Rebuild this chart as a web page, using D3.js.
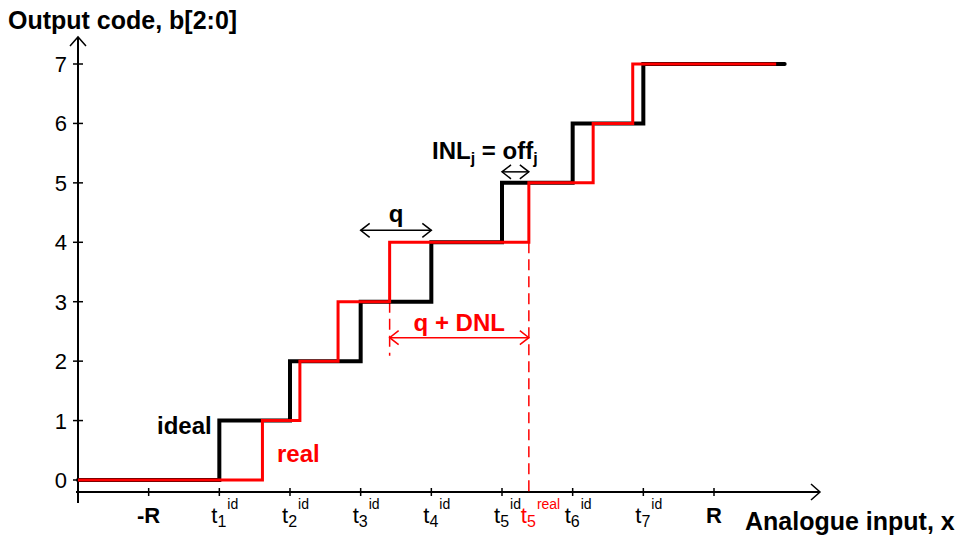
<!DOCTYPE html>
<html>
<head>
<meta charset="utf-8">
<script src="https://cdn.jsdelivr.net/npm/d3@7"></script>
<style>
  body { margin: 0; background: #fff; }
  text { font-family: "Liberation Sans", Arial, sans-serif; }
</style>
</head>
<body>
<div id="chart"></div>
<script>
// output codes and thresholds, x in units of q (-R = -4, R = 4)
var codes = [0, 1, 2, 3, 4, 5, 6, 7];
var idealThresholds = [-3, -2, -1, 0, 1, 2, 3];
var realThresholds = [-2.39, -1.86, -1.32, -0.59, 1.38, 2.29, 2.85];
var inputStart = -5, idealEnd = 5, realEnd = 4.88;

// x tick labels: main letter, subscript, superscript
var xTickValues = [-4, -3, -2, -1, 0, 1, 2, 3, 4];
var xTickLabels = [
  {main: "-R", sub: "", sup: ""},
  {main: "t", sub: "1", sup: "id"},
  {main: "t", sub: "2", sup: "id"},
  {main: "t", sub: "3", sup: "id"},
  {main: "t", sub: "4", sup: "id"},
  {main: "t", sub: "5", sup: "id"},
  {main: "t", sub: "6", sup: "id"},
  {main: "t", sub: "7", sup: "id"},
  {main: "R", sub: "", sup: ""}
];

var width = 963, height = 535;

var svg = d3.select("#chart").append("svg")
  .attr("width", width)
  .attr("height", height);

var x = d3.scaleLinear().domain([-5, 5.5]).range([78, 820]);
var y = d3.scaleLinear().domain([0, 7]).range([480, 64]);
var axisY = 492;

//Staircase points
function stairs (thresholds, end) {
  var pts = [[inputStart, 0]];
  thresholds.forEach(function (t, i) {
    pts.push([t, codes[i + 1]]);
  });
  pts.push([end, codes[codes.length - 1]]);
  return pts;
}

var line = d3.line()
  .x(function (d) { return x(d[0]); })
  .y(function (d) { return y(d[1]); })
  .curve(d3.curveStepAfter);

//Axes
svg.append("line")
  .attr("x1", x(inputStart)).attr("x2", x(inputStart))
  .attr("y1", 37).attr("y2", 503)
  .attr("stroke", "black").attr("stroke-width", 2);
svg.append("line")
  .attr("x1", x(inputStart) - 2).attr("x2", x(5.5))
  .attr("y1", axisY).attr("y2", axisY)
  .attr("stroke", "black").attr("stroke-width", 2);

//Open arrow heads on axes
svg.append("path")
  .attr("d", "M" + (x(inputStart) - 8) + "," + 46 + "L" + x(inputStart) + ",37L" + (x(inputStart) + 8) + ",46")
  .attr("fill", "none").attr("stroke", "black").attr("stroke-width", 1.5);
svg.append("path")
  .attr("d", "M" + (x(5.5) - 9) + "," + (axisY - 8) + "L" + x(5.5) + "," + axisY + "L" + (x(5.5) - 9) + "," + (axisY + 8))
  .attr("fill", "none").attr("stroke", "black").attr("stroke-width", 1.5);

//Y ticks and labels
svg.selectAll(".ytick")
  .data(codes)
  .enter().append("line")
  .attr("class", "ytick")
  .attr("x1", x(inputStart) - 5).attr("x2", x(inputStart) + 5)
  .attr("y1", function (d) { return y(d); })
  .attr("y2", function (d) { return y(d); })
  .attr("stroke", "black").attr("stroke-width", 1.5);

svg.selectAll(".ylabel")
  .data(codes)
  .enter().append("text")
  .attr("class", "ylabel")
  .attr("x", 67)
  .attr("y", function (d) { return y(d) + 8; })
  .attr("text-anchor", "end")
  .style("font-size", "22px")
  .text(function (d) { return d; });

//X ticks
svg.selectAll(".xtick")
  .data(xTickValues)
  .enter().append("line")
  .attr("class", "xtick")
  .attr("x1", function (d) { return x(d); })
  .attr("x2", function (d) { return x(d); })
  .attr("y1", axisY - 4).attr("y2", axisY + 4)
  .attr("stroke", "black").attr("stroke-width", 1.5);

//X labels
function tLabel (g, px, lab, color) {
  var t = g.append("text")
    .attr("y", 523)
    .attr("fill", color);
  if (lab.sub === "") {
    t.attr("x", px).attr("text-anchor", "middle")
      .style("font-size", "22px").style("font-weight", "bold")
      .text(lab.main);
    return;
  }
  t.attr("x", px);
  t.append("tspan").style("font-size", "22px").text(lab.main);
  t.append("tspan").style("font-size", "16px").attr("dy", 4).text(lab.sub);
  t.append("tspan").style("font-size", "14px").attr("dx", 1).attr("dy", -18).text(lab.sup);
}

xTickValues.forEach(function (v, i) {
  var lab = xTickLabels[i];
  tLabel(svg, lab.sub === "" ? x(v) : x(v) - 8, lab, "black");
});
tLabel(svg, x(realThresholds[4]) - 8, {main: "t", sub: "5", sup: "real"}, "red");

//Dashed guides for the 5th real threshold and 4th real threshold
svg.append("line")
  .attr("x1", x(realThresholds[3])).attr("x2", x(realThresholds[3]))
  .attr("y1", y(3)).attr("y2", y(3) + 54)
  .attr("stroke", "red").attr("stroke-width", 1.5)
  .attr("stroke-dasharray", "11,6");
svg.append("line")
  .attr("x1", x(realThresholds[4])).attr("x2", x(realThresholds[4]))
  .attr("y1", y(4)).attr("y2", axisY)
  .attr("stroke", "red").attr("stroke-width", 1.5)
  .attr("stroke-dasharray", "11,6");

//Staircases
svg.append("path")
  .datum(stairs(idealThresholds, idealEnd))
  .attr("d", line)
  .attr("fill", "none")
  .attr("stroke", "black")
  .attr("stroke-width", 4)
  .attr("stroke-linecap", "round");
svg.append("path")
  .datum(stairs(realThresholds, realEnd))
  .attr("d", line)
  .attr("fill", "none")
  .attr("stroke", "red")
  .attr("stroke-width", 3);

//Double headed arrows
function dblArrow (x1, x2, yy, color) {
  var g = svg.append("g")
    .attr("fill", "none").attr("stroke", color).attr("stroke-width", 1.5);
  g.append("line").attr("x1", x1).attr("x2", x2).attr("y1", yy).attr("y2", yy);
  g.append("path").attr("d", "M" + (x1 + 9) + "," + (yy - 7) + "L" + x1 + "," + yy + "L" + (x1 + 9) + "," + (yy + 7));
  g.append("path").attr("d", "M" + (x2 - 9) + "," + (yy - 7) + "L" + x2 + "," + yy + "L" + (x2 - 9) + "," + (yy + 7));
}

dblArrow(x(idealThresholds[2]), x(idealThresholds[3]), y(4) - 12, "black");
dblArrow(x(idealThresholds[4]), x(realThresholds[4]), y(5) - 11, "black");
dblArrow(x(realThresholds[3]), x(realThresholds[4]), y(3) + 36, "red");

//Annotations
svg.append("text")
  .attr("x", (x(idealThresholds[2]) + x(idealThresholds[3])) / 2)
  .attr("y", y(4) - 20)
  .attr("text-anchor", "middle")
  .style("font-size", "24px").style("font-weight", "bold")
  .text("q");

svg.append("text")
  .attr("x", (x(realThresholds[3]) + x(realThresholds[4])) / 2)
  .attr("y", y(3) + 29)
  .attr("text-anchor", "middle")
  .attr("fill", "red")
  .style("font-size", "24px").style("font-weight", "bold")
  .text("q + DNL");

var inl = svg.append("text")
  .attr("x", 432)
  .attr("y", y(5) - 24)
  .style("font-size", "24px").style("font-weight", "bold");
inl.append("tspan").text("INL");
inl.append("tspan").style("font-size", "16px").attr("dy", 5).text("j");
inl.append("tspan").attr("dy", -5).text(" = off");
inl.append("tspan").style("font-size", "16px").attr("dy", 5).text("j");

svg.append("text")
  .attr("x", 157).attr("y", y(1) + 13)
  .style("font-size", "24px").style("font-weight", "bold")
  .text("ideal");
svg.append("text")
  .attr("x", 277).attr("y", y(0) - 18)
  .attr("fill", "red")
  .style("font-size", "24px").style("font-weight", "bold")
  .text("real");

//Axis titles
svg.append("text")
  .attr("x", 8).attr("y", 29)
  .style("font-size", "25px").style("font-weight", "bold")
  .text("Output code, b[2:0]");
svg.append("text")
  .attr("x", 745).attr("y", 530)
  .style("font-size", "25px").style("font-weight", "bold")
  .text("Analogue input, x");
</script>
</body>
</html>
